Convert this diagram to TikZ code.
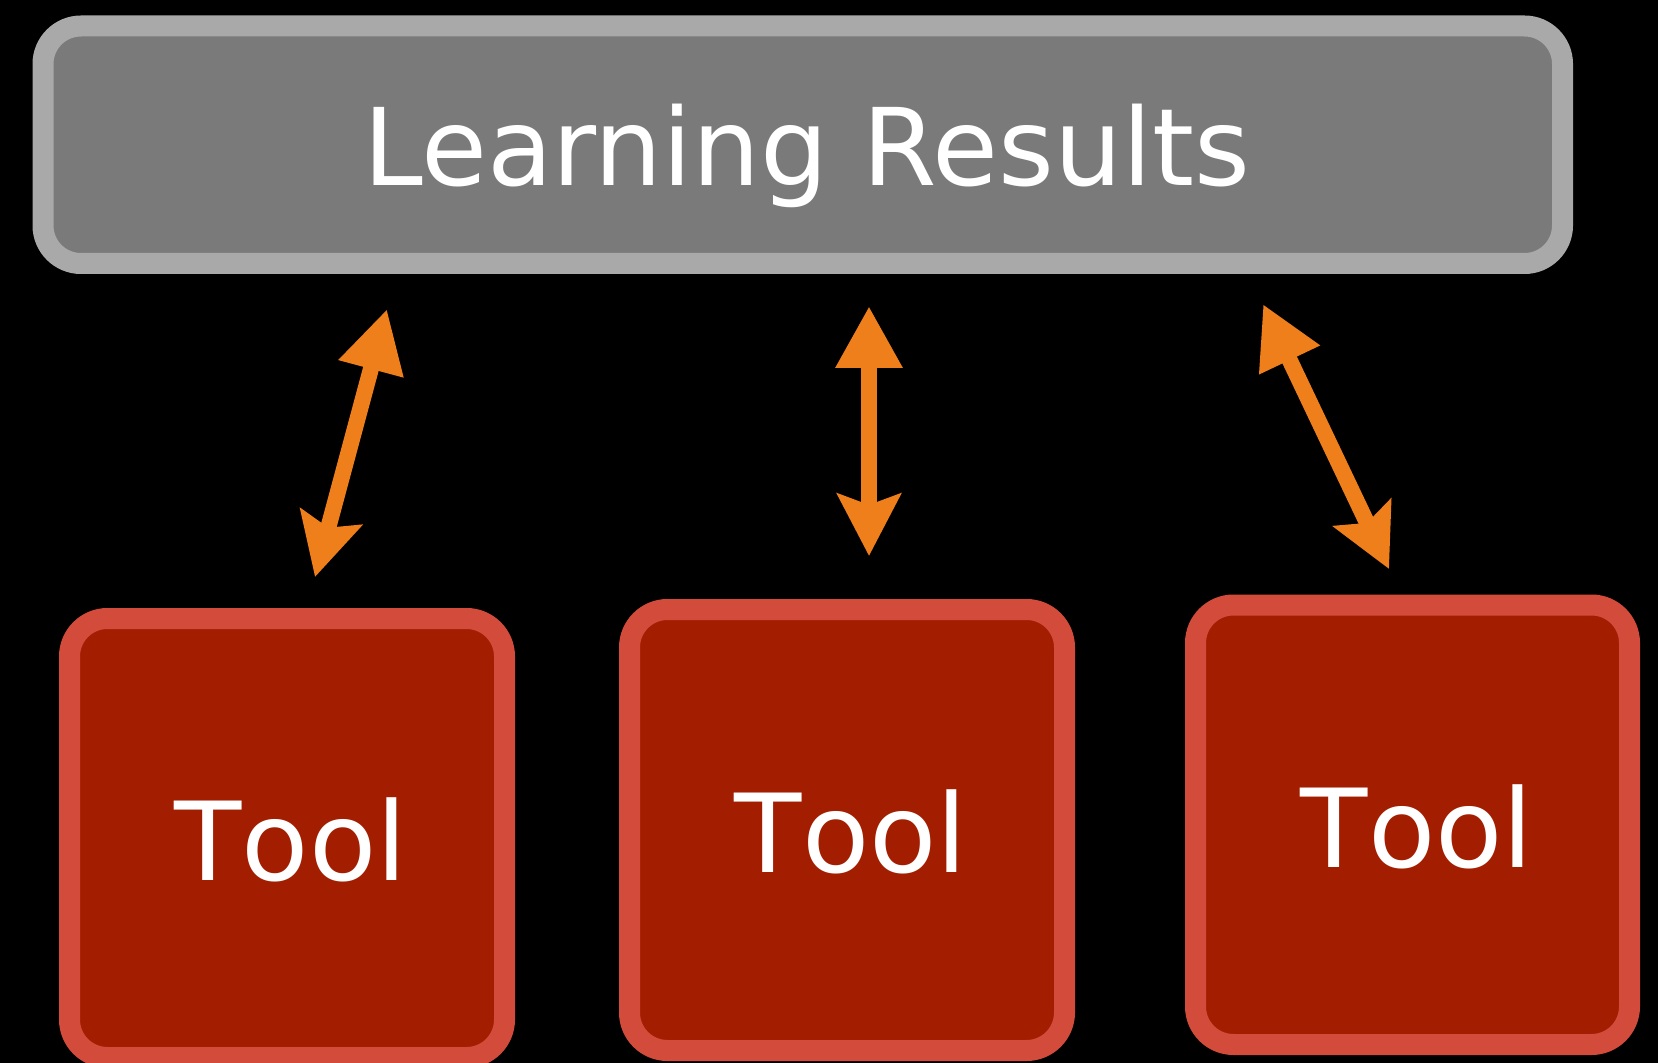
\documentclass[tikz,border=0pt]{standalone}
\usepackage{fontspec}
\setmainfont{DejaVu Sans}
\newfontfamily\toolfont[FakeStretch=1.01,Kerning=Off]{DejaVu Sans}
\usetikzlibrary{arrows.meta}
\definecolor{bgblack}{HTML}{000000}
\definecolor{grayborder}{HTML}{A9A9A9}
\definecolor{grayfill}{HTML}{7A7A7A}
\definecolor{redborder}{HTML}{D34B3A}
\definecolor{redfill}{HTML}{A31E00}
\definecolor{arroworange}{HTML}{EF7F1A}
\tikzset{
  resultbox/.style={draw=grayborder, fill=grayfill, line width=10.5pt, rounded corners=19pt, inner sep=0pt, outer sep=0pt},
  toolbox/.style={draw=redborder, fill=redfill, line width=10.5pt, rounded corners=19pt, inner sep=0pt, outer sep=0pt},
  bigtext/.style={text=white, anchor=base, inner sep=0pt, font=\fontsize{53.6}{60}\selectfont},
  tooltext/.style={text=white, anchor=base, inner sep=0pt, font=\toolfont\fontsize{54.5}{60}\selectfont},
  twoway/.style={draw=arroworange, line width=8pt,
    {Triangle[length=31pt,width=31.5pt]}-{Stealth[length=31pt,width=31.5pt,inset=5.5pt]}}
}
\begin{document}
\begin{tikzpicture}[x=0.5pt,y=-0.5pt]
\fill[bgblack] (0,0) rectangle (1658,1063);
\useasboundingbox (0,0) rectangle (1658,1063);
\begin{scope}
\clip (0,0) rectangle (1658,1063);
\node[resultbox, minimum width=759.75pt, minimum height=118.75pt] (results) at (802.75,144.75) {};
\node[toolbox, minimum width=217.5pt, minimum height=219.5pt] (tool1) at (287,838) {};
\node[toolbox, minimum width=217.5pt, minimum height=220.5pt] (tool2) at (847,830) {};
\node[toolbox, minimum width=217pt, minimum height=219.75pt] (tool3) at (1412.5,824.75) {};
\end{scope}
\node[bigtext] (resultslabel) at (806.5,186) {Learning Results};
\node[tooltext] (tool1label) at (291,880) {Tool};
\node[tooltext] (tool2label) at (851,872) {Tool};
\node[tooltext] (tool3label) at (1417,867) {Tool};
\coordinate (a1top) at (387,309);
\coordinate (a1bot) at (315,577);
\coordinate (a2top) at (869,306);
\coordinate (a2bot) at (869,556);
\coordinate (a3top) at (1263,304);
\coordinate (a3bot) at (1389,569);
\draw[twoway] (a1top) -- (a1bot);
\draw[twoway] (a2top) -- (a2bot);
\draw[twoway] (a3top) -- (a3bot);
\end{tikzpicture}
\end{document}
